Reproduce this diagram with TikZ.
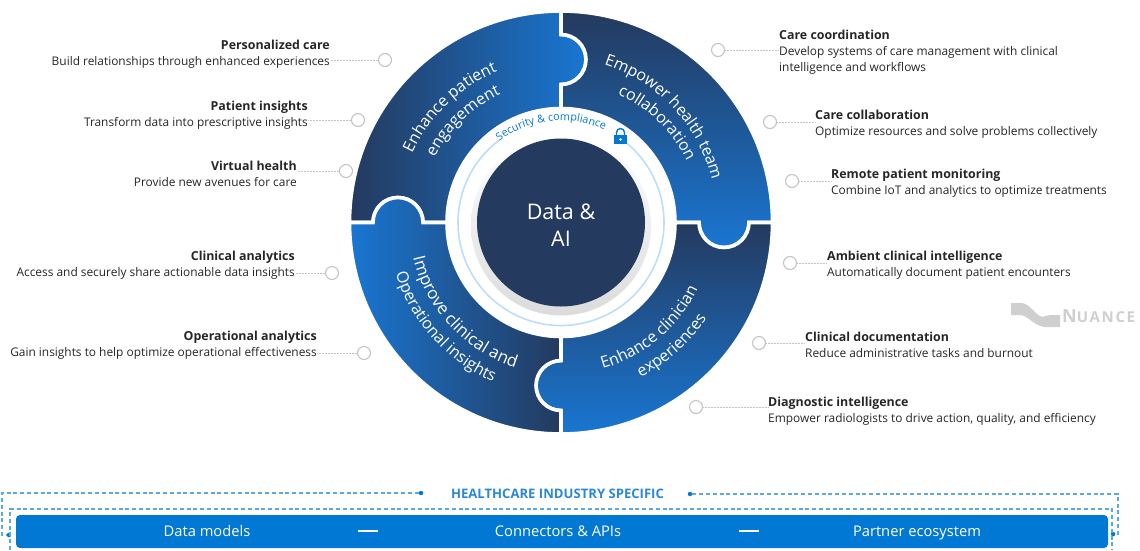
\documentclass[tikz,border=0pt]{standalone}
\usepackage{fontspec}
\setmainfont{Open Sans}
\usepackage{xcolor}
\usetikzlibrary{decorations.text}
\definecolor{wheeldark}{HTML}{243A5E}
\definecolor{wheelblue}{HTML}{1976D2}
\definecolor{barblue}{HTML}{0078D4}
\definecolor{dashblue}{HTML}{5AA9E6}
\definecolor{ringblue}{HTML}{BBDEFB}
\definecolor{headblue}{HTML}{2B88D8}
\definecolor{dotgrey}{HTML}{C4C4C4}
\definecolor{inktext}{HTML}{262626}
\definecolor{logogrey}{HTML}{CFCFCF}
\newcommand{\wheelfont}{\fontsize{16}{18}\selectfont\color{white}}
\newcommand{\wheelbigfont}{\fontsize{16.8}{18}\selectfont\color{white}}
\newcommand{\secfont}{\fontsize{10.8}{12}\selectfont\color{barblue}}
\newcommand{\calltitle}[1]{\textbf{\fontsize{12.4}{16}\selectfont #1}}
\newcommand{\wedgeoutline}{(-211.5,0) arc (180:90:211.5) -- (0,188) arc (90:-90:25) -- (0,114) arc (90:180:114) -- (-138,0) arc (0:180:25) -- (-188,0) -- cycle}
\newcommand{\arclabel}[3]{\path[decorate, decoration={text along path, text align=center, text={|#1|#2}}] #3;}
\tikzset{
  wedge/.style={draw=white, line width=3.6pt, line join=miter},
  ringdot/.style={circle, draw=dotgrey, fill=white, line width=1.1pt, minimum size=13pt, inner sep=0pt},
  lead/.style={draw=dotgrey, line width=0.5pt, densely dotted},
  leftlab/.style={anchor=east, align=right, inner sep=0pt, text=inktext, font=\fontsize{11.9}{16}\selectfont},
  rightlab/.style={anchor=west, align=left, inner sep=0pt, text=inktext, font=\fontsize{11.9}{16}\selectfont},
  frame/.style={draw=dashblue, line width=1.1pt, dash pattern=on 4pt off 2.8pt},
  enddot/.style={circle, fill=barblue, minimum size=4.5pt, inner sep=0pt},
  barlab/.style={text=white, text height=10.5pt, text depth=3pt, inner sep=0pt, font=\fontsize{14.7}{16}\selectfont},
  bardash/.style={draw=white, line width=2.4pt},
}
\begin{document}
\begin{tikzpicture}[x=1pt,y=1pt]
\useasboundingbox (0,0) rectangle (1140,-550);

% wheel
\begin{scope}[shift={(561,-222.5)}]
\path[wedge, left color=wheeldark, right color=wheelblue] \wedgeoutline;
\path[wedge, rotate=-90, top color=wheeldark, bottom color=wheelblue] \wedgeoutline;
\path[wedge, rotate=180, top color=wheeldark, bottom color=wheelblue] \wedgeoutline;
\path[wedge, rotate=90, left color=wheelblue, right color=wheeldark] \wedgeoutline;

% hub
\draw[ringblue, line width=1.6pt] (55:103) arc (55:-233:103);
\shade[top color=white, bottom color=black!14] (0,-3) circle (90);
\fill[wheeldark] (0,0) circle (84);
\node[text=white, align=center, font=\fontsize{21.5}{27}\selectfont] (hub) at (0,-3) {Data \&\\AI};

% arc labels
\arclabel{\wheelfont}{Enhance patient}{(158:164) arc (158:110:164)}
\arclabel{\wheelfont}{engagement}{(158:142) arc (158:110:142)}
\arclabel{\wheelfont}{Empower health team}{([shift={(-8,2.5)}]75:164) arc (75:11:164)}
\arclabel{\wheelfont}{collaboration}{(70:140) arc (70:22:140)}
\arclabel{\wheelfont}{Enhance clinician}{(-80:152) arc (-80:-20:152)}
\arclabel{\wheelfont}{experiences}{(-68:174) arc (-68:-28:174)}
\arclabel{\wheelbigfont}{Improve clinical and}{(190:152) arc (190:256:152)}
\arclabel{\wheelfont}{Operational insights}{(192:173) arc (192:252:173)}
\arclabel{\secfont}{Security {\&} compliance}{(130:102) arc (130:62:102)}
\end{scope}

% lock
\fill[barblue] (614,-135) rectangle (627,-144);
\draw[barblue, line width=1.4pt] (616.5,-135) -- (616.5,-132.5) arc (180:0:4) -- (624.5,-135);
\fill[white] (620.5,-139.5) circle (1.4);

% left callouts
\node[leftlab] (personal) at (330,-54) {\calltitle{Personalized care}\\Build relationships through enhanced experiences};
\node[ringdot] (personaldot) at (385,-60) {};
\draw[lead] (personaldot) -- (personaldot -| personal.east);
\node[leftlab] (insights) at (308,-115) {\calltitle{Patient insights}\\Transform data into prescriptive insights};
\node[ringdot] (insightsdot) at (358,-120) {};
\draw[lead] (insightsdot) -- (insightsdot -| insights.east);
\node[leftlab] (virtual) at (297,-174) {\calltitle{Virtual health}\\Provide new avenues for care};
\node[ringdot] (virtualdot) at (346,-171) {};
\draw[lead] (virtualdot) -- (virtualdot -| virtual.east);
\node[leftlab] (clinical) at (295,-265) {\calltitle{Clinical analytics}\\Access and securely share actionable data insights};
\node[ringdot] (clinicaldot) at (332,-273) {};
\draw[lead] (clinicaldot) -- (clinicaldot -| clinical.east);
\node[leftlab] (operate) at (317,-345) {\calltitle{Operational analytics}\\Gain insights to help optimize operational effectiveness};
\node[ringdot] (operatedot) at (364,-353) {};
\draw[lead] (operatedot) -- (operatedot -| operate.east);

% right callouts
\node[rightlab] (coord) at (779,-52) {\calltitle{Care coordination}\\Develop systems of care management with clinical\\intelligence and workflows};
\node[ringdot] (coorddot) at (718,-50) {};
\draw[lead] (coorddot) -- (coorddot -| coord.west);
\node[rightlab] (collab) at (815,-124) {\calltitle{Care collaboration}\\Optimize resources and solve problems collectively};
\node[ringdot] (collabdot) at (770,-122) {};
\draw[lead] (collabdot) -- (collabdot -| collab.west);
\node[rightlab] (remote) at (831,-183) {\calltitle{Remote patient monitoring}\\Combine IoT and analytics to optimize treatments};
\node[ringdot] (remotedot) at (792,-181) {};
\draw[lead] (remotedot) -- (remotedot -| remote.west);
\node[rightlab] (ambient) at (827,-265) {\calltitle{Ambient clinical intelligence}\\Automatically document patient encounters};
\node[ringdot] (ambientdot) at (790,-263) {};
\draw[lead] (ambientdot) -- (ambientdot -| ambient.west);
\node[rightlab] (docs) at (805,-345) {\calltitle{Clinical documentation}\\Reduce administrative tasks and burnout};
\node[ringdot] (docsdot) at (759,-343) {};
\draw[lead] (docsdot) -- (docsdot -| docs.west);
\node[rightlab] (diag) at (768,-411) {\calltitle{Diagnostic intelligence}\\Empower radiologists to drive action, quality, and efficiency};
\node[ringdot] (diagdot) at (696,-407) {};
\draw[lead] (diagdot) -- (diagdot -| diag.west);

% logo
\fill[logogrey] (1011,-303) -- (1022,-303) .. controls (1032,-304) and (1036,-320) .. (1048,-317) -- (1048,-327) .. controls (1034,-328) and (1028,-314) .. (1019,-315) -- (1011,-315) -- cycle;
\fill[logogrey] (1030,-316) .. controls (1038,-322) and (1042,-315) .. (1052,-315) -- (1060,-315) -- (1060,-327) -- (1046,-327) .. controls (1040,-327) and (1034,-321) .. (1030,-316) -- cycle;
\node[text=logogrey, inner sep=0pt, anchor=west, font=\bfseries] (logo) at (1062,-316) {\fontsize{18}{18}\selectfont N\fontsize{15}{18}\selectfont\addfontfeature{LetterSpace=11}UANCE};

% bottom band
\node[text=headblue, font=\bfseries\fontsize{13.1}{14}\selectfont] (head) at (557.5,-494) {HEALTHCARE INDUSTRY SPECIFIC};
\node[enddot] (dotnw) at (421,-493) {};
\node[enddot] (dotne) at (690,-494) {};
\node[enddot] (dotsw) at (9,-535) {};
\node[enddot] (dotse) at (1113,-534) {};
\draw[frame] (dotnw) -- (2,-493) -- (2,-535) -- (dotsw);
\draw[frame] (dotne) -- (1118,-494) -- (1118,-534) -- (dotse);
\draw[frame] (10,-550) -- (10,-509) -- (1112,-509) -- (1112,-550);
\fill[barblue, rounded corners=4pt] (16,-515) rectangle (1108,-548);
\node[barlab] (models) at (207,-533) {Data models};
\node[barlab] (apis) at (558,-533) {Connectors \& APIs};
\node[barlab] (partner) at (917,-533) {Partner ecosystem};
\draw[bardash] (358,-531) -- (378,-531);
\draw[bardash] (739,-531) -- (759,-531);
\end{tikzpicture}
\end{document}
